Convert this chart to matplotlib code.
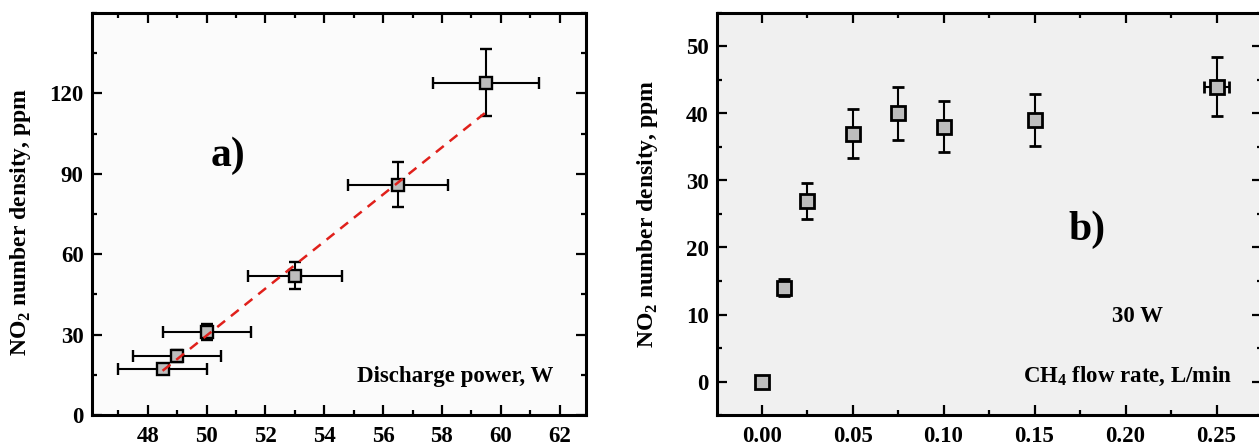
import numpy as np
import matplotlib
matplotlib.use("Agg")
import matplotlib.pyplot as plt
from matplotlib.ticker import MultipleLocator

plt.rcParams['font.family'] = ['Liberation Serif', 'DejaVu Serif']
plt.rcParams['font.weight'] = 'bold'
plt.rcParams['mathtext.fontset'] = 'custom'
plt.rcParams['mathtext.rm'] = 'Liberation Serif:bold'
plt.rcParams['mathtext.bf'] = 'Liberation Serif:bold'

# panel a) - NO2 vs discharge power
power = [48.5, 49.0, 50.0, 53.0, 56.5, 59.5]
power_err = [1.5, 1.5, 1.5, 1.6, 1.7, 1.8]
no2_a = [17, 22, 31, 52, 86, 124]
no2_a_err = [1.2, 2.2, 3.0, 5.0, 8.5, 12.5]
fit_x = [48.5, 59.5]
fit_y = [16.5, 113]

# panel b) - NO2 vs CH4 flow rate
flow = [0.0, 0.0125, 0.025, 0.05, 0.075, 0.10, 0.15, 0.25]
flow_err = [0, 0, 0, 0, 0, 0, 0, 0.007]
no2_b = [0, 14, 27, 37, 40, 38, 39, 44]
no2_b_err = [0, 1.3, 2.7, 3.7, 4.0, 3.8, 3.9, 4.4]

W, H = 1259, 448
fig = plt.figure(figsize=(W / 100, H / 100), dpi=100)
axa = fig.add_axes([92 / W, (H - 415) / H, (586 - 92) / W, 402 / H])
axb = fig.add_axes([717 / W, (H - 415) / H, (1262 - 717) / W, 402 / H])

axa.set_facecolor('#fbfbfb')
axb.set_facecolor('#f0f0f0')

FS = 16.5


def style(ax):
    for s in ax.spines.values():
        s.set_linewidth(2.2)
    ax.tick_params(which='both', direction='in', top=True, right=True,
                   width=1.6, labelsize=FS)
    ax.tick_params(axis='x', pad=8)
    ax.tick_params(axis='y', pad=6)
    ax.tick_params(which='major', length=7)
    ax.tick_params(which='minor', length=3.5)
    for lab in ax.get_xticklabels() + ax.get_yticklabels():
        lab.set_fontweight('bold')


# a)
axa.errorbar(power, no2_a, xerr=power_err, yerr=no2_a_err, fmt='s',
             ms=8, mfc='#bdbdbd', mec='black', mew=1.7,
             ecolor='black', elinewidth=1.5, capsize=4, capthick=1.5, zorder=3)
axa.plot(fit_x, fit_y, color='#e0201b', lw=1.8, dashes=(4, 3), zorder=4)
axa.set_xlim(46.1, 62.9)
axa.set_ylim(0, 150)
axa.xaxis.set_major_locator(MultipleLocator(2))
axa.xaxis.set_minor_locator(MultipleLocator(1))
axa.set_yticks([0, 30, 60, 90, 120])
axa.yaxis.set_minor_locator(MultipleLocator(15))
axa.set_ylabel(r'NO$_\mathbf{2}$ number density, ppm', fontsize=17, fontweight='bold')
axa.yaxis.set_label_coords(-0.119, 0.48)
style(axa)
axa.text(0.275, 0.645, 'a)', transform=axa.transAxes, fontsize=30,
         fontweight='bold', ha='center', va='center')
axa.text(0.933, 0.095, 'Discharge power, W', transform=axa.transAxes,
         fontsize=FS, fontweight='bold', ha='right', va='center')

# b)
axb.errorbar(flow, no2_b, xerr=flow_err, yerr=no2_b_err, fmt='s',
             ms=10, mfc='#bdbdbd', mec='black', mew=2.0,
             ecolor='black', elinewidth=1.5, capsize=4, capthick=1.5, zorder=3)
axb.set_xlim(-0.0245, 0.275)
axb.set_ylim(-5, 55)
axb.xaxis.set_major_locator(MultipleLocator(0.05))
axb.xaxis.set_minor_locator(MultipleLocator(0.025))
axb.xaxis.set_major_formatter(matplotlib.ticker.FormatStrFormatter('%.2f'))
axb.set_yticks([0, 10, 20, 30, 40, 50])
axb.yaxis.set_minor_locator(MultipleLocator(5))
axb.set_ylabel(r'NO$_\mathbf{2}$ number density, ppm', fontsize=17, fontweight='bold')
axb.yaxis.set_label_coords(-0.105, 0.5)
style(axb)
axb.text(0.679, 0.46, 'b)', transform=axb.transAxes, fontsize=30,
         fontweight='bold', ha='center', va='center')
axb.text(0.772, 0.246, '30 W', transform=axb.transAxes, fontsize=FS,
         fontweight='bold', ha='center', va='center')
axb.text(0.945, 0.097, r'CH$_\mathbf{4}$ flow rate, L/min', transform=axb.transAxes,
         fontsize=FS, fontweight='bold', ha='right', va='center')

fig.savefig('out.png', dpi=100, facecolor='white')
